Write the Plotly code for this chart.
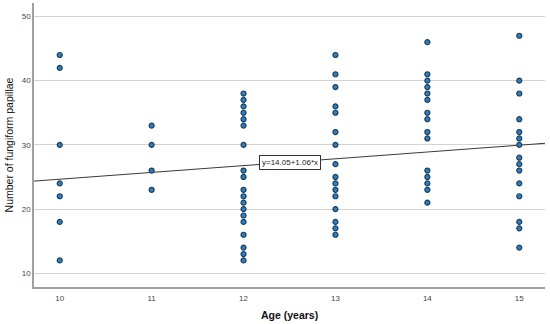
import plotly.graph_objects as go

ages = [10, 11, 12, 13, 14, 15]
papillae_10 = [44, 42, 30, 24, 22, 18, 12]
papillae_11 = [33, 30, 26, 23]
papillae_12 = [38, 37, 36, 35, 34, 33, 30, 26, 25, 23, 22, 21, 20, 19, 18, 16, 14, 13, 12]
papillae_13 = [44, 41, 39, 36, 35, 32, 30, 27, 25, 24, 23, 22, 20, 18, 17, 16]
papillae_14 = [46, 41, 40, 39, 38, 37, 35, 34, 32, 31, 26, 25, 24, 23, 21]
papillae_15 = [47, 40, 38, 34, 32, 31, 30, 28, 27, 26, 24, 22, 18, 17, 14]
groups = [papillae_10, papillae_11, papillae_12, papillae_13, papillae_14, papillae_15]

fit_intercept = 14.05
fit_slope = 1.06
fit_label = "y=14.05+1.06*x"
x_range = [9.72, 15.28]
y_range = [7.86, 52.1]
y_ticks = [10, 20, 30, 40, 50]

xs, ys = [], []
for a, g in zip(ages, groups):
    xs += [a] * len(g)
    ys += g

W, H = 550, 324
M = dict(l=34, r=5, t=3, b=37)

fig = go.Figure()
fig.add_trace(go.Scatter(
    x=x_range, y=[fit_intercept + fit_slope * v for v in x_range],
    mode="lines", line=dict(color="#3a3a3a", width=1), hoverinfo="skip"))
fig.add_trace(go.Scatter(
    x=xs, y=ys, mode="markers",
    marker=dict(size=5, color="#2f7fbf", line=dict(color="#1b3f5e", width=1.2))))

fig.add_annotation(x=12.5, y=27.2, text=fit_label, showarrow=False,
                   font=dict(family="Liberation Sans, Arial", size=8, color="#222"),
                   bgcolor="white", bordercolor="#333", borderwidth=1, borderpad=2)

plot_h = H - M["t"] - M["b"]
fig.add_annotation(x=0.5, xref="paper", y=(H - M["b"] - 315) / plot_h, yref="paper",
                   text="<b>Age (years)</b>", showarrow=False, yanchor="middle",
                   font=dict(family="Liberation Sans, Arial", size=10.5, color="#111"))

fig.update_layout(
    width=W, height=H, showlegend=False,
    margin=M,
    plot_bgcolor="white", paper_bgcolor="white",
    font=dict(family="Liberation Sans, Arial", color="#333"),
)
fig.update_xaxes(range=x_range, tickvals=ages, ticks="", showgrid=False,
                 showline=True, linecolor="#a0a0a0", linewidth=1.5,
                 ticklabelstandoff=3,
                 tickfont=dict(size=8, color="#444"), zeroline=False)
fig.update_yaxes(range=y_range, tickvals=y_ticks, ticks="", showgrid=True,
                 gridcolor="#d4d4d4", gridwidth=1,
                 showline=True, linecolor="#a0a0a0", linewidth=1.5,
                 tickfont=dict(size=8, color="#444"), zeroline=False,
                 title=dict(text="Number of fungiform papillae", font=dict(size=10.5, color="#111"), standoff=6))

fig.write_html("out.html", config={"displayModeBar": False},
               post_script="document.body.style.margin='0';document.body.style.overflow='hidden';")
